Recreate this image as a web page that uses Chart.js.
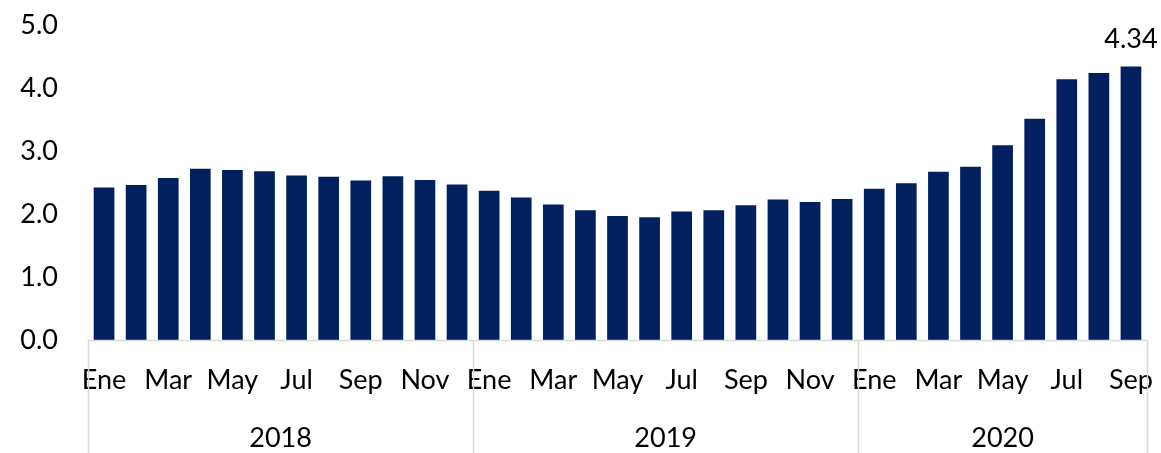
<!DOCTYPE html>
<html>
<head>
<meta charset="utf-8">
<script src="https://cdn.jsdelivr.net/npm/chart.js@4/dist/chart.umd.min.js"></script>
<style>
  html, body { margin: 0; padding: 0; background: #ffffff; }
  #wrap { width: 1161px; height: 453px; position: relative; }
</style>
</head>
<body>
<div id="wrap"><canvas id="c" width="1161" height="453"></canvas></div>
<script>
const months = ['Ene','Feb','Mar','Abr','May','Jun','Jul','Ago','Sep','Oct','Nov','Dic'];
const years = ['2018', '2019', '2020'];
const categories = [
  ...months.map(m => m + ' 2018'),
  ...months.map(m => m + ' 2019'),
  ...months.slice(0, 9).map(m => m + ' 2020')
];
const values = [
  2.42, 2.46, 2.57, 2.72, 2.70, 2.68, 2.61, 2.59, 2.53, 2.60, 2.54, 2.47,
  2.37, 2.26, 2.15, 2.06, 1.97, 1.95, 2.04, 2.06, 2.14, 2.23, 2.19, 2.24,
  2.40, 2.49, 2.67, 2.75, 3.09, 3.51, 4.14, 4.24, 4.34
];
const yearSizes = [12, 12, 9];
const lastLabel = '4.34';
const yTicks = [0, 1, 2, 3, 4, 5];

const FONT = 'Lato, "Open Sans", sans-serif';
const GRAY = '#d9d9d9';

const yearPlugin = {
  id: 'yearPlugin',
  afterDraw(chart) {
    const ctx = chart.ctx;
    const x = chart.scales.x;
    const area = chart.chartArea;
    const step = x.getPixelForValue(1) - x.getPixelForValue(0);
    ctx.save();
    ctx.strokeStyle = GRAY;
    ctx.lineWidth = 1.5;
    ctx.beginPath();
    ctx.moveTo(area.left, area.bottom + 0.5);
    ctx.lineTo(area.right, area.bottom + 0.5);
    ctx.stroke();
    let start = 0;
    ctx.font = '27px ' + FONT;
    ctx.fillStyle = '#000';
    ctx.textAlign = 'center';
    ctx.textBaseline = 'middle';
    const bounds = [];
    for (let i = 0; i < years.length; i++) {
      const end = start + yearSizes[i];
      const xl = x.getPixelForValue(start) - step / 2;
      const xr = x.getPixelForValue(end - 1) + step / 2;
      bounds.push(xl);
      if (i === years.length - 1) bounds.push(xr);
      ctx.fillText(years[i], (xl + xr) / 2, 438);
      start = end;
    }
    ctx.beginPath();
    bounds.forEach(b => {
      ctx.moveTo(Math.round(b) + 0.5, area.bottom);
      ctx.lineTo(Math.round(b) + 0.5, chart.height);
    });
    ctx.stroke();
    const meta = chart.getDatasetMeta(0);
    const bar = meta.data[meta.data.length - 1];
    ctx.textBaseline = 'alphabetic';
    ctx.fillText(lastLabel, bar.x, bar.y - 19);
    ctx.restore();
  }
};

new Chart(document.getElementById('c'), {
  type: 'bar',
  data: {
    labels: categories,
    datasets: [{
      data: values,
      backgroundColor: '#002060',
      borderWidth: 0,
      categoryPercentage: 0.645,
      barPercentage: 1
    }]
  },
  options: {
    responsive: false,
    animation: false,
    layout: { padding: { top: 25, right: 14, left: 0, bottom: 0 } },
    plugins: { legend: { display: false }, tooltip: { enabled: false } },
    scales: {
      x: {
        grid: { display: false, drawTicks: false },
        border: { display: false },
        ticks: {
          autoSkip: false,
          maxRotation: 0,
          minRotation: 0,
          padding: 24,
          color: '#000',
          font: { family: FONT, size: 27 },
          callback: function(v, i) { return i % 2 === 0 ? months[i % 12] : ''; }
        },
        afterFit(scale) { scale.height = 113; scale.paddingLeft = 0; scale.paddingRight = 0; }
      },
      y: {
        min: 0,
        max: 5,
        grid: { display: false, drawTicks: false },
        border: { display: false },
        afterBuildTicks(scale) { scale.ticks = yTicks.map(v => ({ value: v })); },
        ticks: {
          padding: 30,
          color: '#000',
          font: { family: FONT, size: 27 },
          callback: v => v.toFixed(1)
        },
        afterFit(scale) { scale.width = 88; scale.paddingTop = 0; scale.paddingBottom = 0; }
      }
    }
  },
  plugins: [yearPlugin]
});
</script>
</body>
</html>
